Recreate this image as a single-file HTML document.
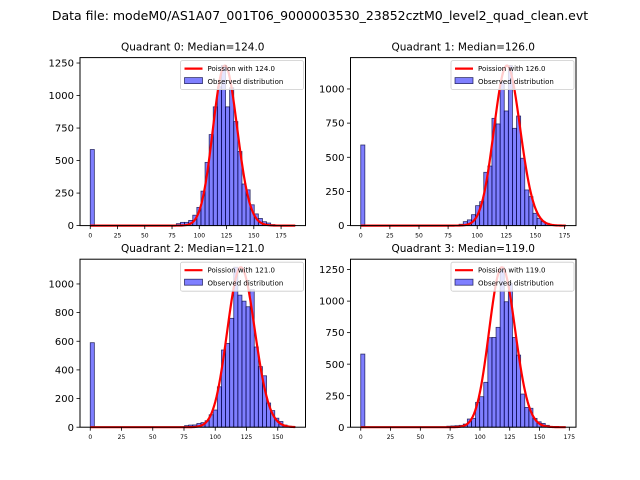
<!DOCTYPE html>
<html><head><meta charset="utf-8">
<style>
html,body{margin:0;padding:0;background:#fff;}
svg{display:block;font-family:"DejaVu Sans","Liberation Sans",sans-serif;}
</style></head>
<body>
<svg id="fig" width="640" height="480" viewBox="0 0 640 480" xmlns="http://www.w3.org/2000/svg">
<rect x="0" y="0" width="640" height="480" fill="#fff"/>
<text x="320" y="20" text-anchor="middle" font-size="12.5" fill="#000">Data file: modeM0/AS1A07_001T06_9000003530_23852cztM0_level2_quad_clean.evt</text>
</svg>
<script>
const quadrantTitles = ["Quadrant 0: Median=124.0","Quadrant 1: Median=126.0","Quadrant 2: Median=121.0","Quadrant 3: Median=119.0"];
const medians = [124, 126, 121, 119];
const dataMax = [188, 176, 164, 172];
const curveScale = [34360, 32960, 30800, 34700];
const counts0 = [585,0,0,0,0,0,0,0,0,0,0,0,0,0,0,0,0,0,0,0,5,15,25,25,40,80,140,265,486,700,913,1067,1230,913,1060,800,570,320,275,160,90,55,30,20,8,4,2,1,0,1];
const counts1 = [590,0,0,0,0,0,0,0,0,0,0,0,0,0,0,0,0,0,0,0,0,0,0,3,10,29,42,80,146,175,390,436,785,744,1053,839,1171,712,802,493,261,212,90,53,29,17,5,3,1,0];
const counts2 = [590,0,0,0,0,0,0,0,0,0,0,0,0,0,0,0,0,0,0,0,0,0,3,11,15,16,26,32,45,87,120,282,539,585,760,1117,922,880,841,960,560,423,359,169,116,63,40,15,7,3];
const counts3 = [580,0,0,0,0,0,0,0,0,0,0,0,0,0,0,0,0,0,0,0,0,8,10,12,15,25,65,70,197,242,356,710,712,792,1269,995,1141,712,572,263,157,150,70,43,30,15,5,3,1,0];
const allCounts = [counts0, counts1, counts2, counts3];
const xTicks0 = [0,25,50,75,100,125,150,175];
const xTicks1 = [0,25,50,75,100,125,150,175];
const xTicks2 = [0,25,50,75,100,125,150];
const xTicks3 = [0,25,50,75,100,125,150,175];
const yTicks0 = [0,250,500,750,1000,1250];
const yTicks1 = [0,250,500,750,1000];
const yTicks2 = [0,200,400,600,800,1000];
const yTicks3 = [0,250,500,750,1000,1250];
const allX = [xTicks0,xTicks1,xTicks2,xTicks3];
const allY = [yTicks0,yTicks1,yTicks2,yTicks3];

const NS = "http://www.w3.org/2000/svg";
const fig = document.getElementById("fig");
function mk(tag, attrs, parent){
  const e = document.createElementNS(NS, tag);
  for (const k in attrs) e.setAttribute(k, attrs[k]);
  (parent||fig).appendChild(e);
  return e;
}
function lfact(n){let s=0;for(let i=2;i<=n;i++)s+=Math.log(i);return s;}
function pois(k,l){return Math.exp(k*Math.log(l)-l-lfact(k));}

const origins = [[80,57.6],[350.5,57.6],[80,259.2],[350.5,259.2]];
const W = 225.5, H = 168;

for (let q=0;q<4;q++){
  const [x0,y0] = origins[q];
  const counts = allCounts[q];
  const dm = dataMax[q];
  const nb = counts.length;
  const bw = dm/nb;
  const xmin = -0.05*dm, xmax = 1.05*dm;
  const curve = [];
  for (let k=0;k<=Math.floor(dm);k++) curve.push(curveScale[q]*pois(k,medians[q]));
  const top = Math.max(Math.max(...counts), Math.max(...curve))*1.05;
  const sx = v => x0 + (v-xmin)/(xmax-xmin)*W;
  const sy = v => y0 + H - v/top*H;

  const g = mk("g",{});
  
  

  const t = mk("text",{x:x0+W/2,y:y0-7,"text-anchor":"middle","font-size":"10.5",fill:"#000"},g);
  t.textContent = quadrantTitles[q];
  
  

  for (let i=0;i<nb;i++){
    if (counts[i]<=0) continue;
    const xa = sx(i*bw), xb = sx((i+1)*bw);
    const r = mk("rect",{x:xa,y:sy(counts[i]),width:xb-xa,height:sy(0)-sy(counts[i]),fill:"rgba(0,0,255,0.5)",stroke:"rgba(0,0,60,0.75)","stroke-width":"0.8"},g);
    
    
  }
  let d = "";
  curve.forEach((v,k)=>{ d += (k?"L":"M")+sx(k).toFixed(2)+","+sy(v).toFixed(2); });
  const p = mk("path",{d:d,fill:"none",stroke:"#ff0000","stroke-width":"2.2","stroke-linejoin":"round"},g);
  
  

  const fr = mk("rect",{x:x0,y:y0,width:W,height:H,fill:"none",stroke:"#000","stroke-width":"1"},g);
  
  

  allX[q].forEach(v=>{
    const X = sx(v);
    mk("line",{x1:X,y1:y0+H,x2:X,y2:y0+H+3.5,stroke:"#000","stroke-width":"0.8"},g);
    const tx = mk("text",{x:X,y:y0+H+12,"text-anchor":"middle","font-size":"6",fill:"#000"},g);
    tx.textContent = v;
    
    
  });
  allY[q].forEach(v=>{
    const Y = sy(v);
    mk("line",{x1:x0-3.5,y1:Y,x2:x0,y2:Y,stroke:"#000","stroke-width":"0.8"},g);
    const ty = mk("text",{x:x0-6,y:Y+3.6,"text-anchor":"end","font-size":"10",fill:"#000"},g);
    ty.textContent = v;
    
    
  });

  const lg = mk("g",{},g);
  
  
  const lw = 123, lh = 29, lx = x0+W-lw-2, ly = y0+3;
  mk("rect",{x:lx,y:ly,width:lw,height:lh,rx:2,fill:"rgba(255,255,255,0.8)",stroke:"#ccc","stroke-width":"0.8"},lg);
  mk("line",{x1:lx+4,y1:ly+8,x2:lx+22,y2:ly+8,stroke:"#ff0000","stroke-width":"2.2"},lg);
  const l1 = mk("text",{x:lx+27,y:ly+10.5,"font-size":"7",fill:"#000"},lg);
  l1.textContent = "Poission with "+medians[q].toFixed(1);
  
  
  mk("rect",{x:lx+4,y:ly+17,width:18,height:6,fill:"rgba(0,0,255,0.5)",stroke:"rgba(0,0,60,0.75)","stroke-width":"0.8"},lg);
  const l2 = mk("text",{x:lx+27,y:ly+23.5,"font-size":"7",fill:"#000"},lg);
  l2.textContent = "Observed distribution";
  
  
}
</script>
</body></html>
